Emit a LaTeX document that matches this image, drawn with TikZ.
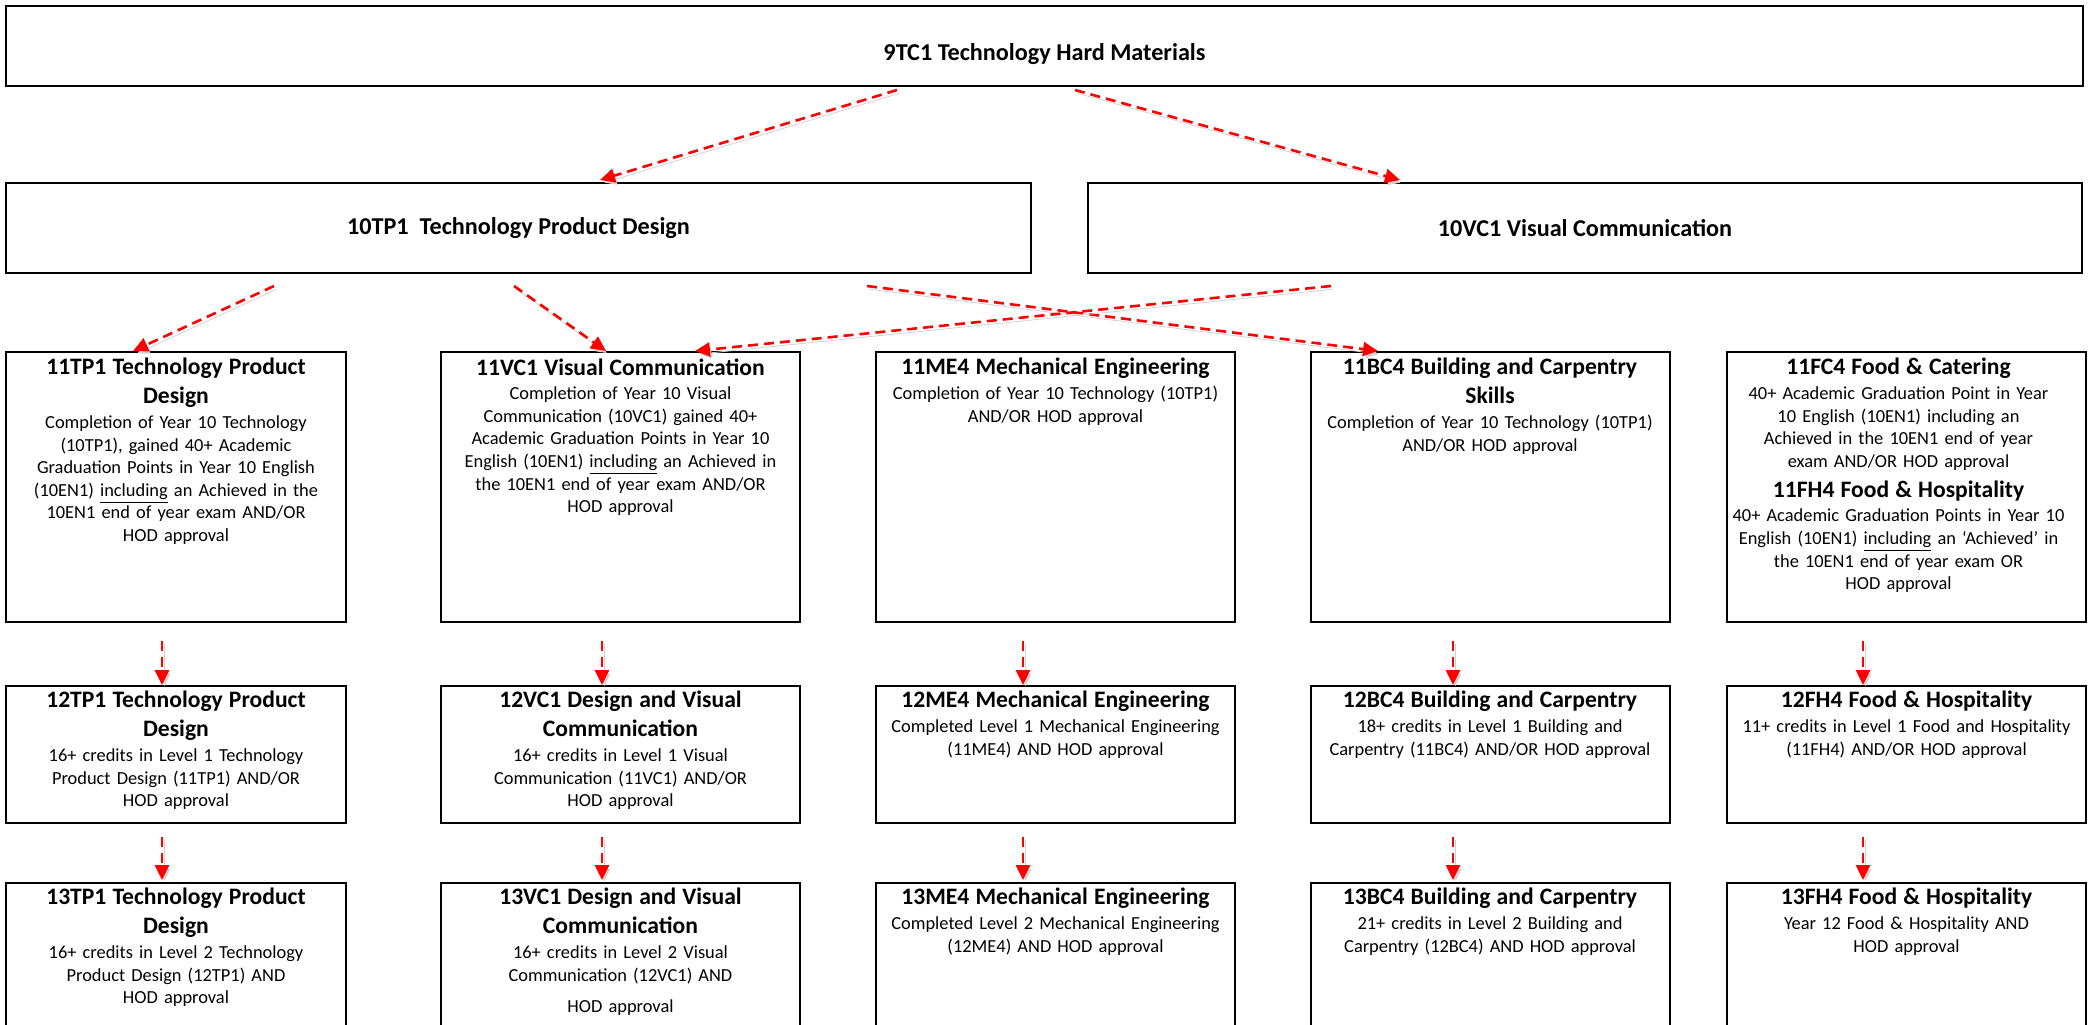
\documentclass[tikz,border=0pt]{standalone}
\usepackage{xcolor}
\usepackage{fontspec}
\setmainfont{Carlito}
\usepackage{tikz}
\usetikzlibrary{arrows.meta,calc}
\definecolor{linkColor}{RGB}{255, 0, 0}
\definecolor{shadeColor}{RGB}{210, 210, 210}

\newcommand{\coursetitle}[1]{{\fontsize{11.8}{14.5}\selectfont\bfseries #1\par}\vspace{1pt}}
\newcommand{\bodysize}{\fontsize{9.2}{11.3}\selectfont}

\tikzset{
    box/.style={draw, line width=1pt, inner sep=0pt, outer sep=0pt},
    headbox/.style={box, minimum height=45pt, font=\fontsize{12.1}{14}\selectfont\bfseries},
    card/.style={box, minimum width=179.5pt},
    cardtext/.style={anchor=north, inner sep=0pt, align=center, font=\bodysize, text width=#1},
    flow/.style={draw=linkColor, line width=1.3pt, dash pattern=on 5pt off 3pt,
        -{Triangle[length=7.5pt,width=7pt]},
        preaction={draw=shadeColor, transform canvas={shift={(1.2pt,-1.6pt)}}}}
}

\begin{document}
\begin{tikzpicture}[x=0.5pt, y=-0.5pt]
            \clip (0,0) rectangle (2094,1024);

            % Year 9
            \node[box, minimum width=1038.5pt, minimum height=40pt] (c9tc) at (1044.5,46) {};
            \node[font=\fontsize{12.1}{14}\selectfont\bfseries] (t9tc) at ([yshift=-4pt]c9tc.center) {9TC1 Technology Hard Materials};

            % Year 10
            \node[headbox, minimum width=512.5pt] (c10tp) at (518.5,228) {10TP1\ \ Technology Product Design};
            \node[headbox, minimum width=497pt] (c10vc) at (1585,228) {10VC1 Visual Communication};

            % Year 11 boxes
            \node[card, minimum width=170pt, minimum height=135pt] (c11tp) at (176,487) {};
            \node[card, minimum height=135pt] (c11vc) at (620.5,487) {};
            \node[card, minimum height=135pt] (c11me) at (1055.5,487) {};
            \node[card, minimum height=135pt] (c11bc) at (1490,487) {};
            \node[card, minimum height=135pt] (c11fc) at (1906.5,487) {};

            % Year 12 boxes
            \node[card, minimum width=170pt, minimum height=68.5pt] (c12tp) at (176,754.5) {};
            \node[card, minimum height=68.5pt] (c12vc) at (620.5,754.5) {};
            \node[card, minimum height=68.5pt] (c12me) at (1055.5,754.5) {};
            \node[card, minimum height=68.5pt] (c12bc) at (1490,754.5) {};
            \node[card, minimum height=68.5pt] (c12fh) at (1906.5,754.5) {};

            % Year 13 boxes
            \node[card, minimum width=170pt, minimum height=100pt] (c13tp) at (176,983) {};
            \node[card, minimum height=100pt] (c13vc) at (620.5,983) {};
            \node[card, minimum height=100pt] (c13me) at (1055.5,983) {};
            \node[card, minimum height=100pt] (c13bc) at (1490,983) {};
            \node[card, minimum height=100pt] (c13fh) at (1906.5,983) {};

            % Year 11 text
            \node[cardtext=168pt] (t11tp) at ([yshift=-3pt]c11tp.north) {
                \coursetitle{11TP1 Technology Product\\Design}
                Completion of Year 10 Technology\\(10TP1), gained 40+ Academic\\Graduation Points in Year 10 English\\(10EN1) \underline{including} an Achieved in the\\10EN1 end of year exam AND/OR\\HOD approval
            };
            \node[cardtext=177pt] (t11vc) at ([yshift=-3pt]c11vc.north) {
                \coursetitle{11VC1 Visual Communication}
                Completion of Year 10 Visual\\Communication (10VC1) gained 40+\\Academic Graduation Points in Year 10\\English (10EN1) \underline{including} an Achieved in\\the 10EN1 end of year exam AND/OR\\HOD approval
            };
            \node[cardtext=177pt] (t11me) at ([yshift=-3pt]c11me.north) {
                \coursetitle{11ME4 Mechanical Engineering}
                Completion of Year 10 Technology (10TP1)\\AND/OR HOD approval
            };
            \node[cardtext=177pt] (t11bc) at ([yshift=-3pt]c11bc.north) {
                \coursetitle{11BC4 Building and Carpentry\\Skills}
                Completion of Year 10 Technology (10TP1)\\AND/OR HOD approval
            };
            \node[cardtext=177pt] (t11fc) at ([shift={(-8,6)}]c11fc.north) {
                \coursetitle{11FC4 Food \& Catering}
                40+ Academic Graduation Point in Year\\10 English (10EN1) including an\\Achieved in the 10EN1 end of year\\exam AND/OR HOD approval\par\vspace{0.5pt}
                \coursetitle{11FH4 Food \& Hospitality}
                40+ Academic Graduation Points in Year 10\\English (10EN1) \underline{including} an ‘Achieved’ in\\the 10EN1 end of year exam OR\\HOD approval
            };

            % Year 12 text
            \node[cardtext=168pt] (t12tp) at ([yshift=-2.5pt]c12tp.north) {
                \coursetitle{12TP1 Technology Product\\Design}
                16+ credits in Level 1 Technology\\Product Design (11TP1) AND/OR\\HOD approval
            };
            \node[cardtext=177pt] (t12vc) at ([yshift=-2.5pt]c12vc.north) {
                \coursetitle{12VC1 Design and Visual\\Communication}
                16+ credits in Level 1 Visual\\Communication (11VC1) AND/OR\\HOD approval
            };
            \node[cardtext=177pt] (t12me) at ([yshift=-2.5pt]c12me.north) {
                \coursetitle{12ME4 Mechanical Engineering}
                Completed Level 1 Mechanical Engineering\\(11ME4) AND HOD approval
            };
            \node[cardtext=177pt] (t12bc) at ([yshift=-2.5pt]c12bc.north) {
                \coursetitle{12BC4 Building and Carpentry}
                18+ credits in Level 1 Building and\\Carpentry (11BC4) AND/OR HOD approval
            };
            \node[cardtext=177pt] (t12fh) at ([yshift=-2.5pt]c12fh.north) {
                \coursetitle{12FH4 Food \& Hospitality}
                11+ credits in Level 1 Food and Hospitality\\(11FH4) AND/OR HOD approval
            };

            % Year 13 text
            \node[cardtext=168pt] (t13tp) at ([yshift=-2.5pt]c13tp.north) {
                \coursetitle{13TP1 Technology Product\\Design}
                16+ credits in Level 2 Technology\\Product Design (12TP1) AND\\HOD approval
            };
            \node[cardtext=177pt] (t13vc) at ([yshift=-2.5pt]c13vc.north) {
                \coursetitle{13VC1 Design and Visual\\Communication}
                16+ credits in Level 2 Visual\\Communication (12VC1) AND\\[4.5pt]HOD approval
            };
            \node[cardtext=177pt] (t13me) at ([yshift=-2.5pt]c13me.north) {
                \coursetitle{13ME4 Mechanical Engineering}
                Completed Level 2 Mechanical Engineering\\(12ME4) AND HOD approval
            };
            \node[cardtext=177pt] (t13bc) at ([yshift=-2.5pt]c13bc.north) {
                \coursetitle{13BC4 Building and Carpentry}
                21+ credits in Level 2 Building and\\Carpentry (12BC4) AND HOD approval
            };
            \node[cardtext=177pt] (t13fh) at ([yshift=-2.5pt]c13fh.north) {
                \coursetitle{13FH4 Food \& Hospitality}
                Year 12 Food \& Hospitality AND\\HOD approval
            };

            % Year 9 to Year 10
            \draw[flow] ([shift={(-147.5,4)}]c9tc.south) -- ([shift={(81.5,-3)}]c10tp.north);
            \draw[flow] ([shift={(30.5,4)}]c9tc.south) -- ([shift={(-185,-3)}]c10vc.north);

            % Year 10 to Year 11
            \draw[flow] ([shift={(-244.5,13)}]c10tp.south) -- ([shift={(-43,-1)}]c11tp.north);
            \draw[flow] ([shift={(-4.5,13)}]c10tp.south) -- ([shift={(-14.5,-1)}]c11vc.north);
            \draw[flow] ([shift={(348.5,13)}]c10tp.south) -- ([shift={(-112,-1)}]c11bc.north);
            \draw[flow] ([shift={(-254,13)}]c10vc.south) -- ([shift={(74.5,-1)}]c11vc.north);

            % Year 11 to Year 12
            \draw[flow] ([shift={(-14,19)}]c11tp.south) -- ([shift={(-14,-1)}]c12tp.north);
            \draw[flow] ([shift={(-18.5,19)}]c11vc.south) -- ([shift={(-18.5,-1)}]c12vc.north);
            \draw[flow] ([shift={(-32.5,19)}]c11me.south) -- ([shift={(-32.5,-1)}]c12me.north);
            \draw[flow] ([shift={(-37,19)}]c11bc.south) -- ([shift={(-37,-1)}]c12bc.north);
            \draw[flow] ([shift={(-43.5,19)}]c11fc.south) -- ([shift={(-43.5,-1)}]c12fh.north);

            % Year 12 to Year 13
            \draw[flow] ([shift={(-14,14)}]c12tp.south) -- ([shift={(-14,-3)}]c13tp.north);
            \draw[flow] ([shift={(-18.5,14)}]c12vc.south) -- ([shift={(-18.5,-3)}]c13vc.north);
            \draw[flow] ([shift={(-32.5,14)}]c12me.south) -- ([shift={(-32.5,-3)}]c13me.north);
            \draw[flow] ([shift={(-37,14)}]c12bc.south) -- ([shift={(-37,-3)}]c13bc.north);
            \draw[flow] ([shift={(-43.5,14)}]c12fh.south) -- ([shift={(-43.5,-3)}]c13fh.north);
        \end{tikzpicture}
\end{document}
